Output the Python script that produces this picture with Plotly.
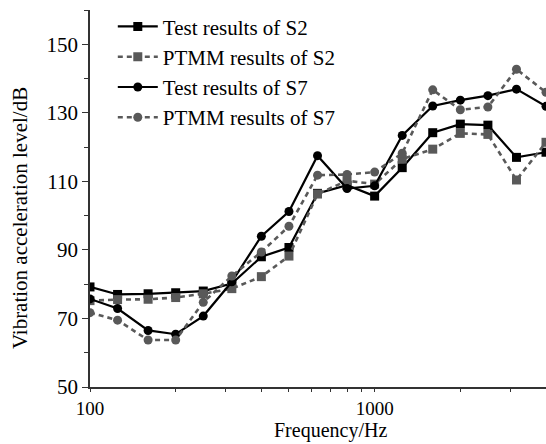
import plotly.graph_objects as go

freq = [100, 125, 160, 200, 250, 315, 400, 500, 630, 800, 1000, 1250, 1600, 2000, 2500, 3150, 4000]
test_s2 = [79.2, 77.0, 77.2, 77.5, 78.0, 80.2, 88.0, 90.7, 106.5, 108.9, 105.7, 114.0, 124.2, 126.7, 126.4, 117.0, 118.5]
ptmm_s2 = [75.2, 75.5, 75.6, 76.1, 77.2, 78.7, 82.2, 88.2, 106.3, 110.2, 109.2, 116.5, 119.4, 124.0, 123.7, 110.4, 121.4]
test_s7 = [75.7, 72.9, 66.5, 65.4, 70.7, 80.7, 94.0, 101.2, 117.5, 107.9, 108.7, 123.4, 132.0, 133.7, 135.0, 136.9, 131.9]
ptmm_s7 = [71.7, 69.5, 63.7, 63.7, 74.7, 82.4, 89.4, 96.9, 111.8, 112.0, 112.7, 118.2, 136.7, 130.9, 131.7, 142.7, 136.0]

BLACK = "#000000"
GRAY = "#595959"
FONT = "Liberation Serif"
FS = 21

fig = go.Figure()
series = [
    ("Test results of S2", test_s2, BLACK, "solid", "square"),
    ("PTMM results of S2", ptmm_s2, GRAY, "dash", "square"),
    ("Test results of S7", test_s7, BLACK, "solid", "circle"),
    ("PTMM results of S7", ptmm_s7, GRAY, "dash", "circle"),
]
for name, vals, col, dash, sym in series:
    fig.add_trace(go.Scatter(
        x=freq, y=vals, name=name, mode="lines+markers",
        line=dict(color=col, width=2.2 if dash == "solid" else 2.6,
                  dash="5px,4px" if dash == "dash" else "solid"),
        marker=dict(symbol=sym, size=9, color=col),
    ))

fig.update_layout(
    width=546, height=444,
    margin=dict(l=90, r=0, t=10, b=57),
    paper_bgcolor="white", plot_bgcolor="white",
    font=dict(family=FONT, size=FS, color="black"),
    showlegend=True,
    legend=dict(x=0.05, y=1.01, xanchor="left", yanchor="top",
                bgcolor="rgba(0,0,0,0)", font=dict(family=FONT, size=FS),
                tracegroupgap=0, itemwidth=40),
    annotations=[
        dict(text="Frequency/Hz", xref="paper", yref="paper", x=0.528, y=-0.151,
             xanchor="center", yanchor="bottom", showarrow=False,
             font=dict(family=FONT, size=20, color="black")),
        dict(text="Vibration acceleration level/dB", xref="paper", yref="paper",
             x=-0.1535, y=0.448, xanchor="center", yanchor="middle", textangle=-90,
             showarrow=False, font=dict(family=FONT, size=FS, color="black")),
    ],
)
fig.update_xaxes(
    type="log", range=[2, 3.60206], showline=True, linecolor="#333", linewidth=1.5,
    ticks="outside", ticklen=3, tickwidth=1.2, tickcolor="#333",
    tickvals=[100, 1000], ticktext=["100", "1000"],
    minor=dict(ticks="outside", ticklen=3, tickwidth=1, tickcolor="#333",
               tickvals=[200, 300, 400, 500, 600, 700, 800, 900, 2000, 3000, 4000]),
    showgrid=False, zeroline=False, mirror=False,
    tickfont=dict(size=19),
)
fig.update_yaxes(
    range=[50, 160], showline=True, linecolor="#333", linewidth=1.5,
    ticks="outside", ticklen=6, tickwidth=1.2, tickcolor="#333",
    tickvals=[50, 70, 90, 110, 130, 150],
    minor=dict(ticks="outside", ticklen=4, tickwidth=1, tickcolor="#333",
               tickvals=[60, 80, 100, 120, 140, 160]),
    showgrid=False, zeroline=False, mirror=False,
    tickfont=dict(size=FS),
)

fig.write_html("out.html")
